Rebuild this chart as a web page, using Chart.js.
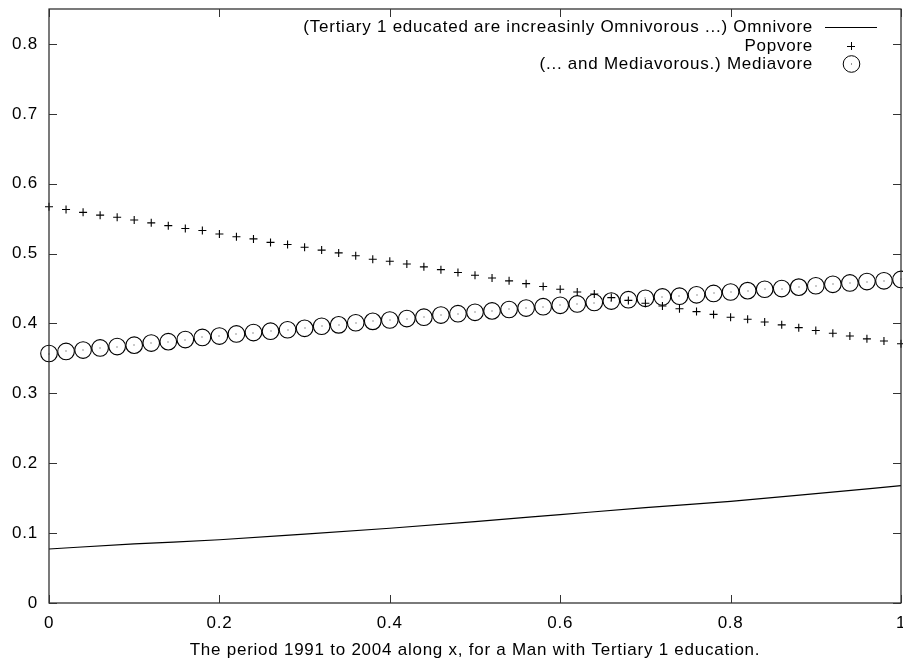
<!DOCTYPE html>
<html>
<head>
<meta charset="utf-8">
<script src="https://cdn.jsdelivr.net/npm/chart.js@4"></script>
<style>
  html, body { margin: 0; padding: 0; background: #fff; }
  #wrap { width: 903px; height: 664px; }
</style>
</head>
<body>
<div id="wrap"><canvas id="chart" width="903" height="664"></canvas></div>
<script>
const xSteps = [0, 0.02, 0.04, 0.06, 0.08, 0.1, 0.12, 0.14, 0.16, 0.18, 0.2, 0.22, 0.24, 0.26, 0.28, 0.3,
    0.32, 0.34, 0.36, 0.38, 0.4, 0.42, 0.44, 0.46, 0.48, 0.5, 0.52, 0.54, 0.56, 0.58, 0.6, 0.62, 0.64,
    0.66, 0.68, 0.7, 0.72, 0.74, 0.76, 0.78, 0.8, 0.82, 0.84, 0.86, 0.88, 0.9, 0.92, 0.94, 0.96, 0.98, 1];

const popvore = [0.567, 0.563, 0.559, 0.555, 0.552, 0.548, 0.544, 0.540, 0.536, 0.533, 0.528, 0.524, 0.521,
    0.516, 0.513, 0.509, 0.505, 0.501, 0.497, 0.492, 0.489, 0.485, 0.481, 0.477, 0.473, 0.469, 0.465, 0.461,
    0.457, 0.453, 0.449, 0.445, 0.442, 0.437, 0.433, 0.429, 0.425, 0.421, 0.417, 0.413, 0.409, 0.406, 0.402,
    0.398, 0.394, 0.390, 0.386, 0.382, 0.378, 0.375, 0.371];

const mediavore = [0.357, 0.360, 0.362, 0.365, 0.367, 0.369, 0.372, 0.374, 0.377, 0.380, 0.382, 0.385, 0.387,
    0.389, 0.391, 0.393, 0.396, 0.398, 0.401, 0.403, 0.405, 0.407, 0.409, 0.412, 0.414, 0.416, 0.418, 0.420,
    0.422, 0.424, 0.426, 0.428, 0.430, 0.432, 0.434, 0.436, 0.438, 0.439, 0.441, 0.443, 0.445, 0.447, 0.449,
    0.450, 0.452, 0.454, 0.456, 0.458, 0.460, 0.461, 0.463];

const omniX = [0, 0.1, 0.2, 0.3, 0.4, 0.5, 0.6, 0.7, 0.8, 0.9, 1];
const omnivore = [0.0773, 0.0845, 0.0905, 0.0985, 0.107, 0.1165, 0.1265, 0.1365, 0.1455, 0.1565, 0.168];

const xTicks = [0, 0.2, 0.4, 0.6, 0.8, 1];
const yTicks = [0, 0.1, 0.2, 0.3, 0.4, 0.5, 0.6, 0.7, 0.8];

const legendLabels = [
    "(Tertiary 1 educated are increasinly Omnivorous ...) Omnivore",
    "Popvore",
    "(... and Mediavorous.) Mediavore"
];
const xTitle = "The period 1991 to 2004 along x, for a Man with Tertiary 1 education.";

const FONT = "'Liberation Sans', Arial, Helvetica, sans-serif";
const FSIZE = 17;
const SPACING = "0.75px";
const INK = "#000";

const noPad = s => { s.paddingTop = 0; s.paddingBottom = 0; s.paddingLeft = 0; s.paddingRight = 0; };

const frame = {
    id: "frame",
    beforeDraw(chart) {
        chart.ctx.letterSpacing = SPACING;
    },
    afterDatasetsDraw(chart) {
        // little dot in the middle of every Mediavore circle
        const { ctx } = chart;
        ctx.save();
        ctx.fillStyle = "#333";
        chart.getDatasetMeta(2).data.forEach(p => {
            ctx.fillRect(Math.round(p.x) - 0.5, Math.round(p.y) - 0.5, 1, 1);
        });
        ctx.restore();
    },
    afterDraw(chart) {
        const { ctx, chartArea: a, scales } = chart;
        ctx.save();
        ctx.strokeStyle = "#222";
        ctx.lineWidth = 1.2;
        ctx.strokeRect(a.left, a.top, a.right - a.left, a.bottom - a.top);
        ctx.lineWidth = 1;
        ctx.strokeStyle = "#333";
        const t = 8;
        ctx.beginPath();
        xTicks.forEach(v => {
            const px = Math.round(scales.x.getPixelForValue(v)) + 0.5;
            ctx.moveTo(px, a.bottom); ctx.lineTo(px, a.bottom - t);
            ctx.moveTo(px, a.top); ctx.lineTo(px, a.top + t);
        });
        yTicks.forEach(v => {
            const py = Math.round(scales.y.getPixelForValue(v)) + 0.5;
            ctx.moveTo(a.left, py); ctx.lineTo(a.left + t, py);
            ctx.moveTo(a.right, py); ctx.lineTo(a.right - t, py);
        });
        ctx.stroke();

        // gnuplot-style key, top right inside the plot
        ctx.letterSpacing = SPACING;
        ctx.font = FSIZE + "px " + FONT;
        ctx.fillStyle = INK;
        ctx.textAlign = "right";
        ctx.textBaseline = "middle";
        const textRight = a.right - 88;
        const sampleMid = a.right - 50;
        const rows = [a.top + 18, a.top + 37, a.top + 55];
        legendLabels.forEach((s, i) => ctx.fillText(s, textRight, rows[i]));
        ctx.strokeStyle = INK;
        ctx.lineWidth = 1;
        ctx.beginPath();
        ctx.moveTo(sampleMid - 26, rows[0] + 0.5);
        ctx.lineTo(sampleMid + 26, rows[0] + 0.5);
        ctx.moveTo(sampleMid - 4, rows[1] + 0.5); ctx.lineTo(sampleMid + 4, rows[1] + 0.5);
        ctx.moveTo(sampleMid + 0.5, rows[1] - 4); ctx.lineTo(sampleMid + 0.5, rows[1] + 4);
        ctx.stroke();
        ctx.beginPath();
        ctx.arc(sampleMid + 0.5, rows[2], 8.3, 0, Math.PI * 2);
        ctx.stroke();
        ctx.fillStyle = "#333";
        ctx.fillRect(sampleMid, rows[2] - 0.5, 1, 1);
        ctx.restore();
    }
};

new Chart(document.getElementById("chart").getContext("2d"), {
    type: "scatter",
    data: {
        datasets: [
            {
                label: "Omnivore",
                type: "line",
                data: omniX.map((x, i) => ({ x, y: omnivore[i] })),
                borderColor: INK,
                borderWidth: 1.2,
                pointRadius: 0,
                cubicInterpolationMode: "monotone",
                fill: false
            },
            {
                label: "Popvore",
                data: xSteps.map((x, i) => ({ x, y: popvore[i] })),
                pointStyle: "cross",
                pointRadius: 4,
                borderColor: INK,
                borderWidth: 1.1,
                backgroundColor: INK
            },
            {
                label: "Mediavore",
                data: xSteps.map((x, i) => ({ x, y: mediavore[i] })),
                pointStyle: "circle",
                pointRadius: 8.3,
                borderColor: INK,
                borderWidth: 1.1,
                backgroundColor: "rgba(0,0,0,0)"
            }
        ]
    },
    options: {
        responsive: false,
        animation: false,
        clip: false,
        events: [],
        layout: { autoPadding: false, padding: { top: 9, right: 2, left: 0, bottom: 0 } },
        plugins: {
            legend: { display: false },
            tooltip: { enabled: false }
        },
        scales: {
            x: {
                type: "linear",
                min: 0,
                max: 1,
                afterFit(s) { s.height = 61; noPad(s); },
                afterBuildTicks(s) { s.ticks = xTicks.map(v => ({ value: v })); },
                grid: { display: false, drawTicks: false },
                border: { display: false },
                ticks: {
                    padding: 10,
                    color: INK,
                    font: { family: FONT, size: FSIZE },
                    maxRotation: 0,
                    callback: v => String(+v.toFixed(2))
                },
                title: {
                    display: true,
                    text: xTitle,
                    color: INK,
                    font: { family: FONT, size: FSIZE },
                    padding: { top: 0, bottom: 3 }
                }
            },
            y: {
                type: "linear",
                min: 0,
                max: 0.85,
                afterFit(s) { s.width = 49; noPad(s); },
                afterBuildTicks(s) { s.ticks = yTicks.map(v => ({ value: v })); },
                grid: { display: false, drawTicks: false },
                border: { display: false },
                ticks: {
                    padding: 11,
                    color: INK,
                    font: { family: FONT, size: FSIZE },
                    callback: v => String(+v.toFixed(2))
                }
            }
        }
    },
    plugins: [frame]
});
</script>
</body>
</html>
